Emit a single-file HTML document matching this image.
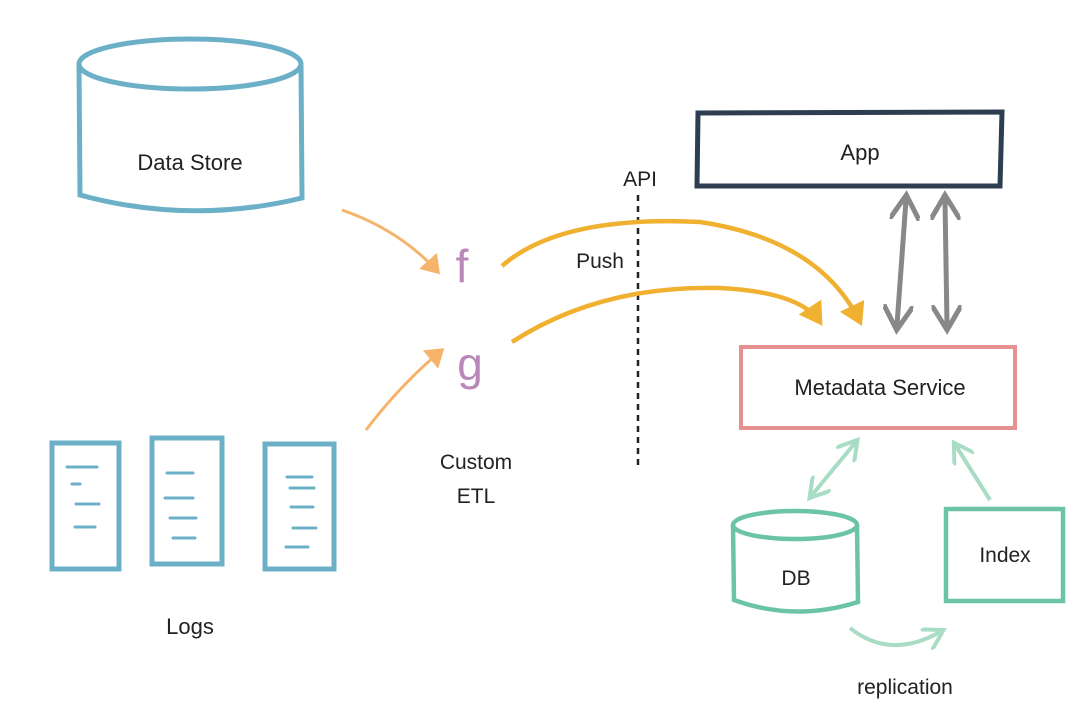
<!DOCTYPE html>
<html><head><meta charset="utf-8"><style>
html,body{margin:0;padding:0;background:#fff;}
svg text{font-family:"Liberation Sans",sans-serif;fill:#222;}
</style></head><body>
<svg width="1080" height="723" viewBox="0 0 1080 723" xmlns="http://www.w3.org/2000/svg">
<defs>
<marker id="ao" markerWidth="6" markerHeight="6" refX="4" refY="3" orient="auto" markerUnits="strokeWidth"><path d="M0,0 L5,3 L0,6 z" fill="#f0b030"/></marker>
<marker id="al" markerWidth="8" markerHeight="8" refX="5" refY="4" orient="auto" markerUnits="strokeWidth"><path d="M0,0 L6,4 L0,8 z" fill="#f6b46a"/></marker>
<marker id="ag" markerWidth="6" markerHeight="6" refX="4" refY="3" orient="auto-start-reverse" markerUnits="strokeWidth"><path d="M0,0 L5,3 L0,6" fill="none" stroke="#888" stroke-width="1"/></marker>
<marker id="agr" markerWidth="6" markerHeight="6" refX="4" refY="3" orient="auto-start-reverse" markerUnits="strokeWidth"><path d="M0,0 L5,3 L0,6" fill="none" stroke="#a8dcc4" stroke-width="1"/></marker>
</defs>
<g fill="none" stroke="#6cb0c8" stroke-width="5">
<ellipse cx="190" cy="64" rx="111" ry="25"/>
<path d="M79,64 L80,195 Q190,225 302,198 L301,64"/>
</g>
<text x="190" y="170" font-size="22" text-anchor="middle">Data Store</text>
<g fill="none" stroke="#6cb0c8" stroke-width="5">
<rect x="52" y="443" width="67" height="126"/>
<rect x="152" y="438" width="70" height="126"/>
<rect x="265" y="444" width="69" height="125"/>
<g stroke-width="3" stroke-linecap="round">
<path d="M67,467h30 M72,484h8 M76,504h23 M75,527h20"/>
<path d="M167,473h26 M165,498h28 M170,518h26 M173,538h22"/>
<path d="M287,477h25 M290,488h24 M291,507h22 M293,528h23 M286,547h22"/>
</g></g>
<text x="190" y="634" font-size="22" text-anchor="middle">Logs</text>
<path d="M342,210 Q400,230 438,272" fill="none" stroke="#f6b46a" stroke-width="3" marker-end="url(#al)"/>
<path d="M366,430 Q400,385 442,350" fill="none" stroke="#f6b46a" stroke-width="3" marker-end="url(#al)"/>
<text x="462" y="282" font-size="46" style="fill:#b888b8" text-anchor="middle">f</text>
<text x="470" y="380" font-size="46" style="fill:#b888b8" text-anchor="middle">g</text>
<text x="476" y="469" font-size="21" text-anchor="middle">Custom</text>
<text x="476" y="503" font-size="21" text-anchor="middle">ETL</text>
<line x1="638" y1="195" x2="638" y2="470" stroke="#222" stroke-width="2.5" stroke-dasharray="6,5"/>
<text x="640" y="186" font-size="21" text-anchor="middle">API</text>
<text x="600" y="268" font-size="21" text-anchor="middle">Push</text>
<path d="M502,266 Q560,215 700,222 Q820,240 860,322" fill="none" stroke="#f0b030" stroke-width="4.5" marker-end="url(#ao)"/>
<path d="M512,342 Q600,285 720,288 Q800,292 820,322" fill="none" stroke="#f0b030" stroke-width="4.5" marker-end="url(#ao)"/>
<path d="M698,113 L1002,112 L1000,186 L697,186 Z" fill="none" stroke="#2c3e50" stroke-width="5"/>
<text x="860" y="160" font-size="22" text-anchor="middle">App</text>
<line x1="906" y1="200" x2="897" y2="325" stroke="#888" stroke-width="5" marker-start="url(#ag)" marker-end="url(#ag)"/>
<line x1="945" y1="200" x2="947" y2="325" stroke="#888" stroke-width="5" marker-start="url(#ag)" marker-end="url(#ag)"/>
<rect x="741" y="347" width="274" height="81" fill="none" stroke="#e69090" stroke-width="4"/>
<text x="880" y="395" font-size="22" text-anchor="middle">Metadata Service</text>
<line x1="812" y1="495" x2="855" y2="443" stroke="#a8dcc4" stroke-width="4" marker-start="url(#agr)" marker-end="url(#agr)"/>
<line x1="990" y1="500" x2="956" y2="446" stroke="#a8dcc4" stroke-width="4" marker-end="url(#agr)"/>
<g fill="none" stroke="#6cc4a8" stroke-width="4.5">
<ellipse cx="795" cy="525" rx="62" ry="14"/>
<path d="M733,525 L734,600 Q795,622 858,602 L857,525"/>
<rect x="946" y="509" width="117" height="92"/>
</g>
<text x="796" y="585" font-size="21" text-anchor="middle">DB</text>
<text x="1005" y="562" font-size="21" text-anchor="middle">Index</text>
<path d="M850,628 Q890,660 940,632" fill="none" stroke="#a8dcc4" stroke-width="4" marker-end="url(#agr)"/>
<text x="905" y="694" font-size="21" text-anchor="middle">replication</text>
</svg>
</body></html>
